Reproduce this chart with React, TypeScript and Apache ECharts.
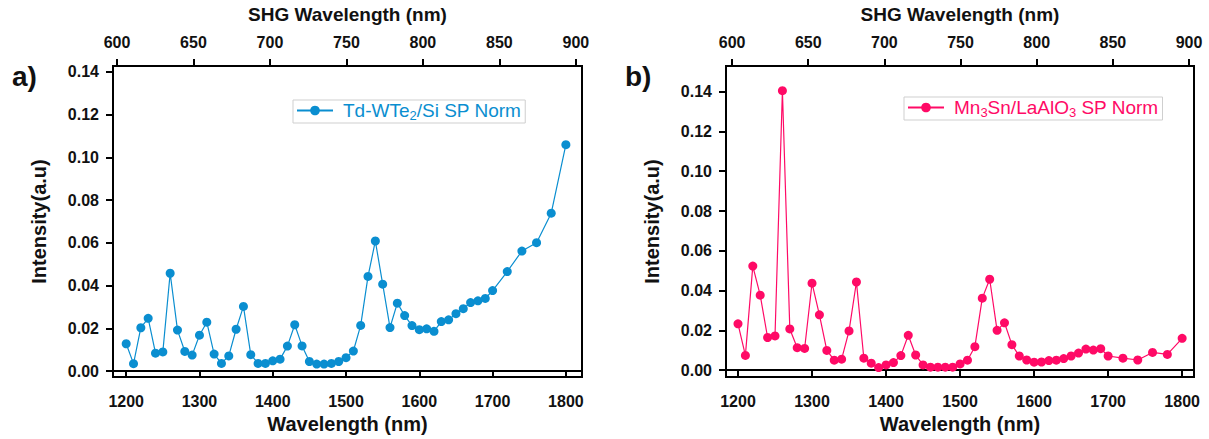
import React, { useEffect, useRef } from "react";
import * as echarts from "echarts";

const wlA = [1200,1210,1220,1230,1240,1250,1260,1270,1280,1290,1300,1310,1320,1330,1340,1350,1360,1370,1380,1390,1400,1410,1420,1430,1440,1450,1460,1470,1480,1490,1500,1510,1520,1530,1540,1550,1560,1570,1580,1590,1600,1610,1620,1630,1640,1650,1660,1670,1680,1690,1700,1720,1740,1760,1780,1800];
const intA = [0.0128,0.0035,0.0203,0.0247,0.0084,0.0090,0.0458,0.0192,0.0092,0.0075,0.0168,0.0229,0.0080,0.0036,0.0071,0.0196,0.0303,0.0077,0.0036,0.0036,0.0048,0.0056,0.0117,0.0217,0.0118,0.0045,0.0033,0.0033,0.0036,0.0045,0.0063,0.0094,0.0214,0.0443,0.0609,0.0407,0.0204,0.0318,0.0260,0.0213,0.0194,0.0198,0.0186,0.0232,0.0240,0.0269,0.0292,0.0321,0.0329,0.0340,0.0377,0.0466,0.0562,0.0601,0.0739,0.1060];

const wlB = [1200,1210,1220,1230,1240,1250,1260,1270,1280,1290,1300,1310,1320,1330,1340,1350,1360,1370,1380,1390,1400,1410,1420,1430,1440,1450,1460,1470,1480,1490,1500,1510,1520,1530,1540,1550,1560,1570,1580,1590,1600,1610,1620,1630,1640,1650,1660,1670,1680,1690,1700,1720,1740,1760,1780,1800];
const intB = [0.0233,0.0074,0.0523,0.0377,0.0164,0.0172,0.1405,0.0207,0.0113,0.0109,0.0437,0.0278,0.0099,0.0050,0.0055,0.0197,0.0443,0.0060,0.0035,0.0013,0.0026,0.0038,0.0073,0.0175,0.0076,0.0026,0.0015,0.0015,0.0015,0.0015,0.0031,0.0050,0.0118,0.0362,0.0457,0.0200,0.0238,0.0128,0.0071,0.0051,0.0040,0.0041,0.0048,0.0050,0.0058,0.0071,0.0086,0.0106,0.0101,0.0108,0.0071,0.0060,0.0051,0.0089,0.0079,0.0160];

const bottomTicks = [1200, 1300, 1400, 1500, 1600, 1700, 1800];
const topTicks = [600, 650, 700, 750, 800, 850, 900];
const yTicks = [0, 0.02, 0.04, 0.06, 0.08, 0.1, 0.12, 0.14];

const nameA = "Td-WTe2/Si SP Norm";
const nameB = "Mn3Sn/LaAlO3 SP Norm";
const colorA = "#0a8ed0";
const colorB = "#ff0a66";

const FONT = "'Liberation Sans', Arial, sans-serif";

export default function App() {
  const ref = useRef<HTMLDivElement>(null);
  useEffect(() => {
    const chart = echarts.init(ref.current!, null, { renderer: "svg" });
    const axisLine = { show: true, lineStyle: { color: "#000", width: 2 } };
    const tickStyle = (vals: number[]) => ({
      show: true,
      length: 7,
      lineStyle: { color: "#000", width: 2 },
      customValues: vals,
    });
    const labelStyle = (vals: number[], margin: number, fmt?: (v: number) => string) => ({
      show: true,
      customValues: vals,
      margin,
      color: "#111",
      fontWeight: "bold" as const,
      fontSize: 16,
      fontFamily: FONT,
      formatter: fmt || ((v: number) => String(v)),
    });
    const nameStyle = (size: number) => ({
      color: "#111",
      fontWeight: "bold" as const,
      fontSize: size,
      fontFamily: FONT,
    });
    const bottomX = (gi: number, min: number, max: number) => ({
      type: "value",
      gridIndex: gi,
      position: "bottom",
      min,
      max,
      axisLine,
      axisTick: tickStyle(bottomTicks),
      axisLabel: labelStyle(bottomTicks, 16),
      splitLine: { show: false },
      name: "Wavelength (nm)",
      nameLocation: "middle",
      nameGap: 36,
      nameTextStyle: nameStyle(20),
    });
    const topX = (gi: number, min: number, max: number) => ({
      type: "value",
      gridIndex: gi,
      position: "top",
      min,
      max,
      axisLine,
      axisTick: tickStyle(topTicks),
      axisLabel: labelStyle(topTicks, 16),
      splitLine: { show: false },
      name: "SHG Wavelength (nm)",
      nameLocation: "middle",
      nameGap: 42,
      nameTextStyle: nameStyle(19),
    });
    const leftY = (gi: number, min: number, max: number) => ({
      type: "value",
      gridIndex: gi,
      min,
      max,
      axisLine,
      axisTick: tickStyle(yTicks),
      axisLabel: labelStyle(yTicks, 14, (v: number) => v.toFixed(2)),
      splitLine: { show: false },
      name: "Intensity(a.u)",
      nameLocation: "middle",
      nameGap: 64,
      nameTextStyle: nameStyle(20),
    });
    const legendRich = (color: string) => ({
      f: { fontSize: 19, color, fontFamily: FONT, padding: [0, 0, 0, 5] },
      a: { fontSize: 19, color, fontFamily: FONT },
      s: { fontSize: 13, color, fontFamily: FONT, padding: [10, 0, 0, 0] },
    });
    const series = (name: string, xs: number[], ys: number[], color: string, gi: number) => ({
      type: "line",
      name,
      xAxisIndex: gi * 2,
      yAxisIndex: gi,
      data: xs.map((x, i) => [x, ys[i]]),
      symbol: "circle",
      symbolSize: 9,
      itemStyle: { color },
      lineStyle: { color, width: 1.2 },
    });
    chart.setOption({
      animation: false,
      backgroundColor: "#fff",
      grid: [
        { left: 113, top: 64, width: 469, height: 314, show: true, borderColor: "#000", borderWidth: 2 },
        { left: 726, top: 64, width: 468, height: 315, show: true, borderColor: "#000", borderWidth: 2 },
      ],
      xAxis: [
        bottomX(0, 1182, 1822),
        topX(0, 597.4, 904),
        bottomX(1, 1183.8, 1816),
        topX(1, 596, 903.3),
      ],
      yAxis: [leftY(0, -0.0028, 0.1428), leftY(1, -0.0035, 0.1529)],
      legend: [
        {
          data: [nameA],
          left: 293,
          top: 100,
          orient: "vertical",
          itemWidth: 36,
          itemHeight: 12,
          borderColor: "#cfcfcf",
          borderWidth: 1,
          padding: [1, 4, 1, 3],
          formatter: () => "{f|Td-WTe}{s|2}{a|/Si SP Norm}",
          textStyle: { color: colorA, rich: legendRich(colorA) },
        },
        {
          data: [nameB],
          left: 904,
          top: 97,
          orient: "vertical",
          itemWidth: 36,
          itemHeight: 12,
          borderColor: "#cfcfcf",
          borderWidth: 1,
          padding: [1, 4, 1, 3],
          formatter: () => "{f|Mn}{s|3}{a|Sn/LaAlO}{s|3}{a| SP Norm}",
          textStyle: { color: colorB, rich: legendRich(colorB) },
        },
      ],
      graphic: [
        { type: "text", left: 12, top: 62, style: { text: "a)", fontSize: 28, fontWeight: "bold", fontFamily: FONT, fill: "#111" } },
        { type: "text", left: 625, top: 62, style: { text: "b)", fontSize: 28, fontWeight: "bold", fontFamily: FONT, fill: "#111" } },
      ],
      series: [
        series(nameA, wlA, intA, colorA, 0),
        series(nameB, wlB, intB, colorB, 1),
      ],
    });
    return () => chart.dispose();
  }, []);
  return (
    <div
      ref={ref}
      style={{ position: "fixed", left: 0, top: 0, width: 1209, height: 439 }}
    />
  );
}
